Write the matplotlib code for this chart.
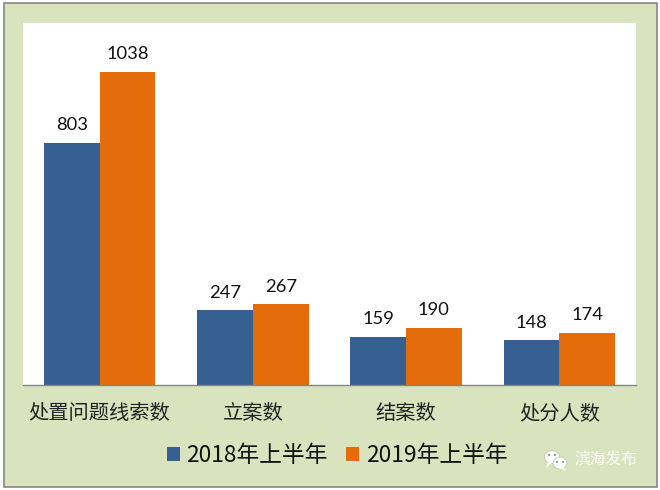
import matplotlib
matplotlib.use('Agg')
import matplotlib.pyplot as plt
from matplotlib.patches import Ellipse, Rectangle, Polygon
import numpy as np

categories = ['处置问题线索数', '立案数', '结案数', '处分人数']
series_2018 = [803, 247, 159, 148]
series_2019 = [1038, 267, 190, 174]
labels = ['2018年上半年', '2019年上半年']
colors = ['#366092', '#E46C0A']

W, H = 660, 490
fig = plt.figure(figsize=(W/100, H/100), dpi=100, facecolor='white')
bg = fig.add_axes([0, 0, 1, 1], zorder=0)
bg.set_xlim(0, W); bg.set_ylim(H, 0); bg.axis('off')
bg.add_patch(Rectangle((3.5, 3.5), 653, 483, fc='#D9E4BE', ec='#868686', lw=1.2))

ax = fig.add_axes([23/W, 1-385/H, 613/W, 362/H], zorder=1)
x = np.arange(len(categories))
w = 0.363
b1 = ax.bar(x-w/2, series_2018, w, color=colors[0], label=labels[0])
b2 = ax.bar(x+w/2, series_2019, w, color=colors[1], label=labels[1])
ax.set_xlim(-0.5, 3.5); ax.set_ylim(0, 1200)
ax.set_yticks([])
for s in ['top', 'left', 'right']:
    ax.spines[s].set_visible(False)
ax.spines['bottom'].set_color('#868686')
ax.spines['bottom'].set_linewidth(1)
ax.tick_params(axis='x', length=0, pad=13)
ax.set_xticks(x)
ax.set_xticklabels(categories, family=['Noto Sans CJK SC'], fontsize=14.6, color='#222222', fontweight='light')
for bars in (b1, b2):
    for r in bars:
        ax.annotate(str(int(r.get_height())), (r.get_x()+r.get_width()/2, r.get_height()),
                    xytext=(0, 7), textcoords='offset points', ha='center', va='bottom',
                    fontsize=13.2, family=['Lato'], color='#111111')

leg = fig.legend(handles=[b1, b2], labels=labels, loc='center', bbox_to_anchor=(337/W, 1-456/H),
                 ncol=2, frameon=False, handlelength=0.57, handleheight=0.57, handletextpad=0.3,
                 columnspacing=0.8, fontsize=16.4, borderpad=0)
for t in leg.get_texts():
    t.set_family(['Noto Sans CJK SC'])
    t.set_color('#111111')

# watermark
fg = fig.add_axes([0, 0, 1, 1], zorder=2)
fg.set_xlim(0, W); fg.set_ylim(H, 0); fg.axis('off'); fg.patch.set_alpha(0)
fg.add_patch(Ellipse((552, 457), 15, 13, fc='white', ec='#B9BFA5', lw=0.5))
fg.add_patch(Polygon([[548, 462], [546, 467], [552, 463]], fc='white', ec='none'))
fg.add_patch(Ellipse((560, 463), 14, 12, fc='white', ec='#B9BFA5', lw=0.5))
fg.add_patch(Polygon([[563, 467], [566, 471], [559, 468]], fc='white', ec='none'))
for px, py in [(549, 455), (555, 455), (557, 462), (563, 462)]:
    fg.add_patch(Ellipse((px, py), 2, 2, fc='#7F8A70', ec='none'))
fg.text(606, 460, '滨海发布', ha='center', va='center', fontsize=11.3,
        family=['Noto Sans CJK SC'], color='white')

fig.savefig('out.png', dpi=100)
